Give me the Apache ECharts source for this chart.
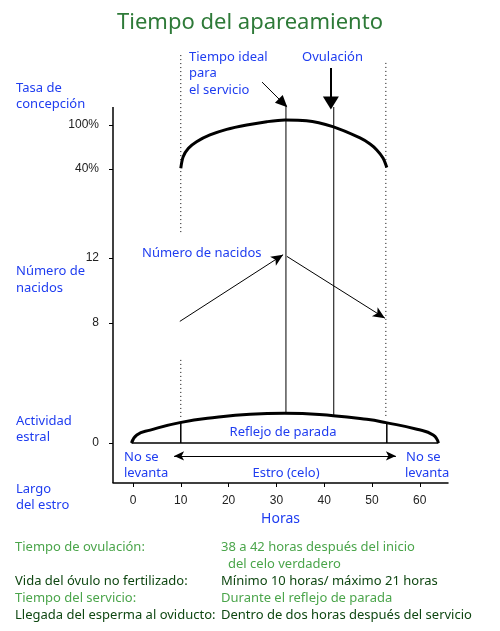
<!DOCTYPE html>
<html><head><meta charset="utf-8">
<script src="https://cdn.jsdelivr.net/npm/echarts@6/dist/echarts.min.js"></script>
<style>html,body{margin:0;padding:0;background:#fff}#c{width:500px;height:631px}</style>
</head><body><div id="c"></div>
<script>
// ---------------- data ----------------
const hourTicks = [0, 10, 20, 30, 40, 50, 60];
const conceptionTicks = [40, 100];      // Tasa de concepción (%)
const birthsTicks = [8, 12];            // Número de nacidos
const activityTicks = [0];              // Actividad estral
// Conception rate over estrus [hours, %]
const conceptionCurve = [[10.0,41],[10.5,56.8],[11.6,68.2],[13.3,77.2],[16.1,86.4],[19.6,94.1],[23.8,100],[28.0,104.5],[31.8,106.8],[36.3,105.9],[41.8,97.7],[47.5,82.3],[49.6,74],[51.0,65.9],[52.3,55],[53.1,42]];
// Estrous activity (arbitrary units) [hours, level]
const activityCurve = [[-0.3,0],[0.8,2.7],[3.6,4.3],[9.8,6.8],[17.5,8.6],[24.5,9.6],[31.7,9.9],[41.9,9.1],[48.9,7.9],[52.9,6.8],[59.4,4.6],[62.8,2.7],[63.9,0]];
// Litter size trend [hours, piglets]
const birthsRise = [[9.8,8.1],[31.4,12.2]];
const birthsFall = [[32.2,12.1],[52.7,8.3]];
// Key times (hours)
const estrusStart = 10, estrusEnd = 53.1;
const idealService = 32, ovulationTime = 42;
// Annotation extents in activity units
const leftDottedUpper = [129.3, 69.3], leftDottedLower = [27.7, 7.7];
const rightDotted = [126.7, 8.3];
const serviceLine = [112.7, 9.9], ovulationLine = [112, 9.1];
const idealArrow = [[27.0,120.3],[31.4,113.3]];
const ovulationArrow = [[41.4,125],[41.4,113.3]];
const estroArrow = [[8.6,-4.3],[55.0,-4.3]];
const estroRange = [-0.3, 63.9];
const yAxisTop = 112;

const blue = '#1f3df0', lightGreen = '#4ba54b', darkGreen = '#0f4712';
const FONT = '"Noto Sans", "DejaVu Sans", sans-serif';
const TICKFONT = '"Liberation Sans", Arial, sans-serif';

const axisRanges = {
  x: [-4.18, 65.9],
  conception: [-388.2, 209.1],
  births: [-1.846, 25.108],
  activity: [-13.333, 132.667]
};

function yAx(range, ticks, fmt) {
  return {
    type: 'value', position: 'left', min: range[0], max: range[1], offset: 0,
    axisLine: {show: false, onZero: false}, splitLine: {show: false},
    axisTick: {show: true, length: 4, customValues: ticks, lineStyle: {color: '#000', width: 1}},
    axisLabel: {show: true, customValues: ticks, margin: 14, color: '#222', fontSize: 12, fontFamily: TICKFONT, formatter: fmt}
  };
}
function seg(yIdx, pts, style) {
  return {type: 'line', yAxisIndex: yIdx, data: pts, symbol: 'none', clip: false, silent: true,
    lineStyle: Object.assign({color: '#000', width: 1}, style), z: 3};
}
function arrowLine(from, to, startSym, endSym, size, width) {
  return [
    {coord: from, symbol: startSym, symbolSize: size, lineStyle: {color: '#000', width: width, type: 'solid'}},
    {coord: to, symbol: endSym, symbolSize: size, lineStyle: {color: '#000', width: width, type: 'solid'}}
  ];
}

const series = [
  // visible y-axis line
  seg(2, [[axisRanges.x[0], axisRanges.activity[0]], [axisRanges.x[0], yAxisTop]], {width: 1.5}),
  // conception curve
  {type: 'line', yAxisIndex: 0, data: conceptionCurve, smooth: 0.3, symbol: 'none', clip: false, silent: true,
    lineStyle: {color: '#000', width: 3}},
  // activity curve
  {type: 'line', yAxisIndex: 2, data: activityCurve, smooth: true, symbol: 'none', clip: false, silent: true,
    lineStyle: {color: '#000', width: 3}},
  // dotted estrus limits
  seg(2, [[estrusStart, leftDottedUpper[0]], [estrusStart, leftDottedUpper[1]]], {type: [1, 3]}),
  seg(2, [[estrusStart, leftDottedLower[0]], [estrusStart, leftDottedLower[1]]], {type: [1, 3]}),
  seg(2, [[estrusEnd - 0.2, rightDotted[0]], [estrusEnd - 0.2, rightDotted[1]]], {type: [1, 3]}),
  // service & ovulation lines
  seg(2, [[idealService, serviceLine[0]], [idealService, serviceLine[1]]], {}),
  seg(2, [[ovulationTime, ovulationLine[0]], [ovulationTime, ovulationLine[1]]], {}),
  // standing reflex box
  seg(2, [[estroRange[0], 0], [estroRange[1], 0]], {width: 1.5}),
  seg(2, [[estrusStart, 0], [estrusStart, 6.8]], {width: 1.5}),
  seg(2, [[estrusEnd, 0], [estrusEnd, 6.7]], {width: 1.5}),
  // arrows (activity units)
  {type: 'line', yAxisIndex: 2, data: [], clip: false, silent: true,
    markLine: {silent: true, animation: false, label: {show: false}, emphasis: {disabled: true},
      data: [
        arrowLine(idealArrow[0], idealArrow[1], 'none', 'triangle', [11, 12], 1),
        arrowLine(ovulationArrow[0], ovulationArrow[1], 'none', 'triangle', [16, 13], 2),
        arrowLine(estroArrow[0], estroArrow[1], 'arrow', 'arrow', [7, 10], 1.2)
      ]}},
  // births arrows
  {type: 'line', yAxisIndex: 1, data: [], clip: false, silent: true,
    markLine: {silent: true, animation: false, label: {show: false}, emphasis: {disabled: true},
      data: [
        arrowLine(birthsRise[0], birthsRise[1], 'none', 'arrow', [8, 12], 1),
        arrowLine(birthsFall[0], birthsFall[1], 'none', 'arrow', [8, 12], 1)
      ]}}
];

function txt(t, x, y, color, size, align) {
  return {type: 'text', x: x, y: y, silent: true, z: 10,
    style: {text: t, fill: color, font: (size || 13) + 'px ' + FONT,
      align: align || 'left', verticalAlign: 'middle', textAlign: align || 'left', textVerticalAlign: 'middle'}};
}
const texts = [
  txt('Tasa de', 16, 88, blue), txt('concepción', 16, 104, blue),
  txt('Número de', 16, 271, blue), txt('nacidos', 16, 288, blue),
  txt('Actividad', 16, 421, blue), txt('estral', 16, 437, blue),
  txt('Largo', 16, 489, blue), txt('del estro', 16, 505, blue),
  txt('Tiempo ideal', 189, 57, blue), txt('para', 189, 73, blue), txt('el servicio', 189, 90, blue),
  txt('Ovulación', 302, 57, blue),
  txt('Número de nacidos', 142, 253, blue),
  txt('Reflejo de parada', 283, 432, blue, 13, 'center'),
  txt('No se', 124, 457, blue), txt('levanta', 124, 473, blue),
  txt('Estro (celo)', 286, 473, blue, 13, 'center'),
  txt('No se', 406, 457, blue), txt('levanta', 405, 473, blue),
  txt('Tiempo de ovulación:', 15, 547, lightGreen), txt('38 a 42 horas después del inicio', 221, 547, lightGreen),
  txt('del celo verdadero', 228, 564, lightGreen),
  txt('Vida del óvulo no fertilizado:', 15, 581, darkGreen), txt('Mínimo 10 horas/ máximo 21 horas', 221, 581, darkGreen),
  txt('Tiempo del servicio:', 15, 598, lightGreen), txt('Durante el reflejo de parada', 221, 598, lightGreen),
  txt('Llegada del esperma al oviducto:', 15, 615, darkGreen), txt('Dentro de dos horas después del servicio', 221, 615, darkGreen)
];

const chart = echarts.init(document.getElementById('c'), null, {renderer: 'canvas'});
chart.setOption({
  animation: false,
  backgroundColor: '#fff',
  title: {text: 'Tiempo del apareamiento', left: 'center', top: 7,
    textStyle: {color: '#2e7a38', fontSize: 22, fontWeight: 'normal', fontFamily: FONT}},
  grid: {left: 113, right: 52, top: 45, bottom: 148, containLabel: false},
  xAxis: {type: 'value', min: axisRanges.x[0], max: axisRanges.x[1],
    name: 'Horas', nameLocation: 'middle', nameGap: 28,
    nameTextStyle: {color: blue, fontSize: 14, fontFamily: FONT},
    axisLine: {show: true, onZero: false, lineStyle: {color: '#000', width: 1.5}},
    axisTick: {show: true, length: 4, customValues: hourTicks, lineStyle: {color: '#000'}},
    axisLabel: {customValues: hourTicks, margin: 12, color: '#222', fontSize: 12, fontFamily: TICKFONT},
    splitLine: {show: false}},
  yAxis: [
    yAx(axisRanges.conception, conceptionTicks, '{value}%'),
    yAx(axisRanges.births, birthsTicks, '{value}'),
    yAx(axisRanges.activity, activityTicks, '{value}')
  ],
  series: series,
  graphic: texts
});
</script></body></html>
